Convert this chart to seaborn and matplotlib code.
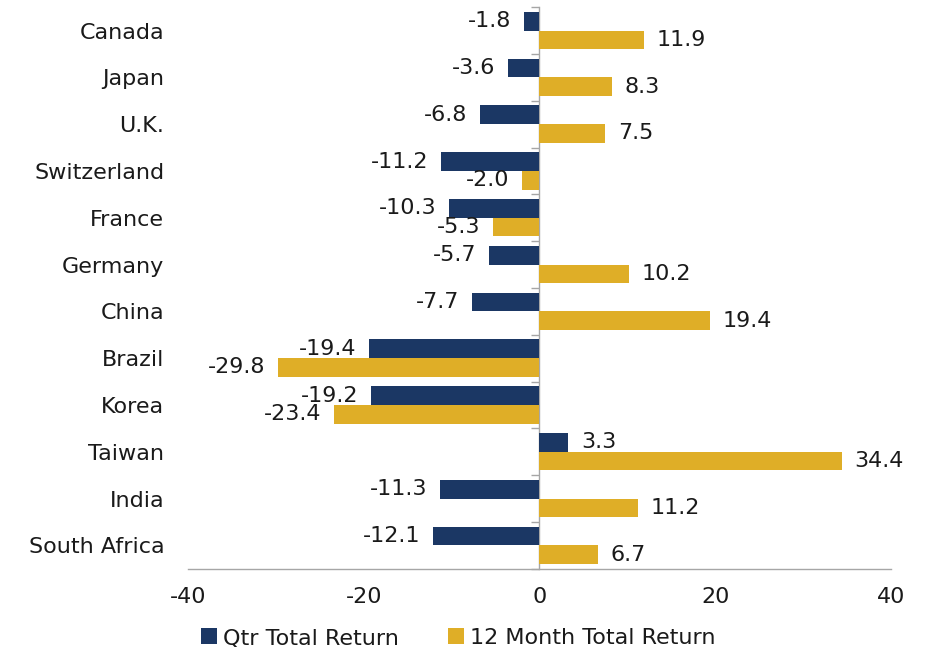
import numpy as np
import pandas as pd
import matplotlib
matplotlib.use('Agg')
import matplotlib.pyplot as plt
import seaborn as sns

# Chart values
countries = ['Canada', 'Japan', 'U.K.', 'Switzerland', 'France', 'Germany',
             'China', 'Brazil', 'Korea', 'Taiwan', 'India', 'South Africa']
qtr_return = [-1.8, -3.6, -6.8, -11.2, -10.3, -5.7, -7.7, -19.4, -19.2, 3.3, -11.3, -12.1]
month12_return = [11.9, 8.3, 7.5, -2.0, -5.3, 10.2, 19.4, -29.8, -23.4, 34.4, 11.2, 6.7]
series_names = ['Qtr Total Return', '12 Month Total Return']
x_ticks = [-40, -20, 0, 20, 40]

NAVY = '#1B3764'
GOLD = '#DFAE27'
GREY = '#A6A6A6'
TXT = '#1a1a1a'
FS = 16

df = pd.DataFrame({
    'Country': countries * 2,
    'Return': qtr_return + month12_return,
    'Series': [series_names[0]] * len(countries) + [series_names[1]] * len(countries),
})

sns.set_theme(style='white')
plt.rcParams['font.family'] = ['DejaVu Sans']

fig = plt.figure(figsize=(9.26, 6.47), dpi=100)
ax = fig.add_axes([0.203, 0.121, 0.759, 0.868])

sns.barplot(data=df, x='Return', y='Country', hue='Series', order=countries,
            hue_order=series_names, palette=[NAVY, GOLD], orient='h',
            width=0.8, saturation=1, linewidth=0, ax=ax, legend=True)

for cont in ax.containers:
    ax.bar_label(cont, fmt='%.1f', padding=9, fontsize=FS, color=TXT)

ax.set_xlim(-40, 40)
ax.set_xticks(x_ticks)
ax.set_xticklabels([str(t) for t in x_ticks], fontsize=FS, color=TXT)
ax.set_ylim(len(countries) - 0.5, -0.5)
ax.set_xlabel('')
ax.set_ylabel('')
ax.tick_params(axis='y', length=0, labelsize=FS, labelcolor=TXT, pad=17)
ax.tick_params(axis='x', direction='out', length=7, color=GREY, width=1, pad=6)

for side in ['top', 'right', 'left']:
    ax.spines[side].set_visible(False)
ax.spines['bottom'].set_color(GREY)
ax.spines['bottom'].set_linewidth(1)

# vertical axis line at zero with ticks between categories
sec = ax.secondary_yaxis(0.5)
sec.yaxis.set_ticks_position('left')
sec.set_yticks(np.arange(-0.5, len(countries), 1.0))
sec.set_yticklabels([])
sec.tick_params(axis='y', direction='out', length=6, color=GREY, width=1)
for side in sec.spines:
    sec.spines[side].set_color(GREY)
    sec.spines[side].set_linewidth(1)

handles, labels = ax.get_legend_handles_labels()
ax.legend(handles, labels, loc='upper center', bbox_to_anchor=(0.385, -0.07),
          ncol=2, frameon=False, fontsize=FS, handlelength=0.7, handleheight=0.7,
          handletextpad=0.3, columnspacing=2.2, labelcolor=TXT)

fig.savefig('out.png', dpi=100)
